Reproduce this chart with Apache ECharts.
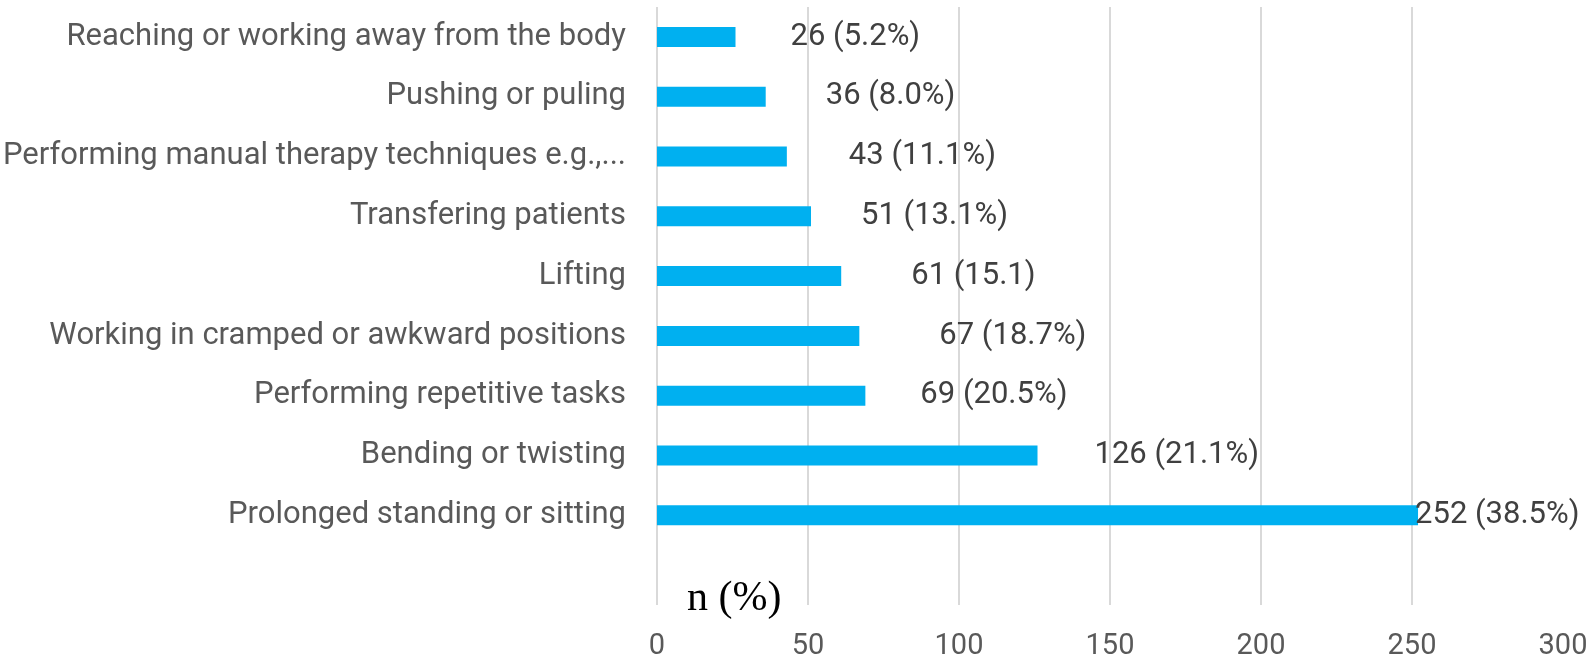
<!DOCTYPE html>
<html>
<head>
<meta charset="utf-8">
<script src="https://cdn.jsdelivr.net/npm/echarts@6/dist/echarts.min.js"></script>
<style>
html,body{margin:0;padding:0;background:#fff;}
#chart{width:1595px;height:665px;}
</style>
</head>
<body>
<div id="chart"></div>
<script>
// Categories from top to bottom (last is an empty slot, as in the reference)
const categories = [
  'Reaching or working away from the body',
  'Pushing or puling',
  'Performing manual therapy techniques e.g.,...',
  'Transfering patients',
  'Lifting',
  'Working in cramped or awkward positions',
  'Performing repetitive tasks',
  'Bending or twisting',
  'Prolonged standing or sitting',
  ''
];
const values = [26, 36, 43, 51, 61, 67, 69, 126, 252];
const percentLabels = ['5.2%', '8.0%', '11.1%', '13.1%', '15.1', '18.7%', '20.5%', '21.1%', '38.5%'];
const xTicks = [0, 50, 100, 150, 200, 250, 300];
// label gap from bar end (style)
const labelGaps = [55, 60, 62, 50, 70, 80, 55, 57, -3];

const seriesData = values.map((v, i) => ({
  value: v,
  label: { distance: labelGaps[i] }
}));

const chart = echarts.init(document.getElementById('chart'));
chart.setOption({
  animation: false,
  grid: { left: 653, right: 32, top: 7, bottom: 60, containLabel: false },
  xAxis: {
    type: 'value',
    min: xTicks[0],
    max: xTicks[xTicks.length - 1],
    interval: 50,
    axisLine: { show: false },
    axisTick: { show: false },
    axisLabel: { color: '#595959', fontSize: 29, fontFamily: 'Roboto', margin: 27 },
    splitLine: { show: true, showMaxLine: false, lineStyle: { color: '#D9D9D9', width: 2 } }
  },
  yAxis: {
    type: 'category',
    data: categories,
    inverse: true,
    axisLine: { show: false },
    axisTick: { show: false },
    axisLabel: {
      color: '#595959', fontSize: 31, fontFamily: 'Roboto', margin: 31,
      formatter: function (v) { return v; }
    },
    splitLine: { show: false }
  },
  series: [{
    type: 'bar',
    data: seriesData,
    barWidth: 20,
    itemStyle: { color: '#00B0F0' },
    label: {
      show: true,
      position: 'right',
      color: '#404040',
      fontSize: 31,
      fontFamily: 'Roboto',
      formatter: p => p.value + ' (' + percentLabels[p.dataIndex] + ')'
    }
  }],
  graphic: [{
    type: 'text',
    left: 687,
    top: 578,
    style: {
      text: 'n (%)',
      font: '42px "Liberation Serif"',
      fill: '#000'
    }
  }]
});
</script>
</body>
</html>
